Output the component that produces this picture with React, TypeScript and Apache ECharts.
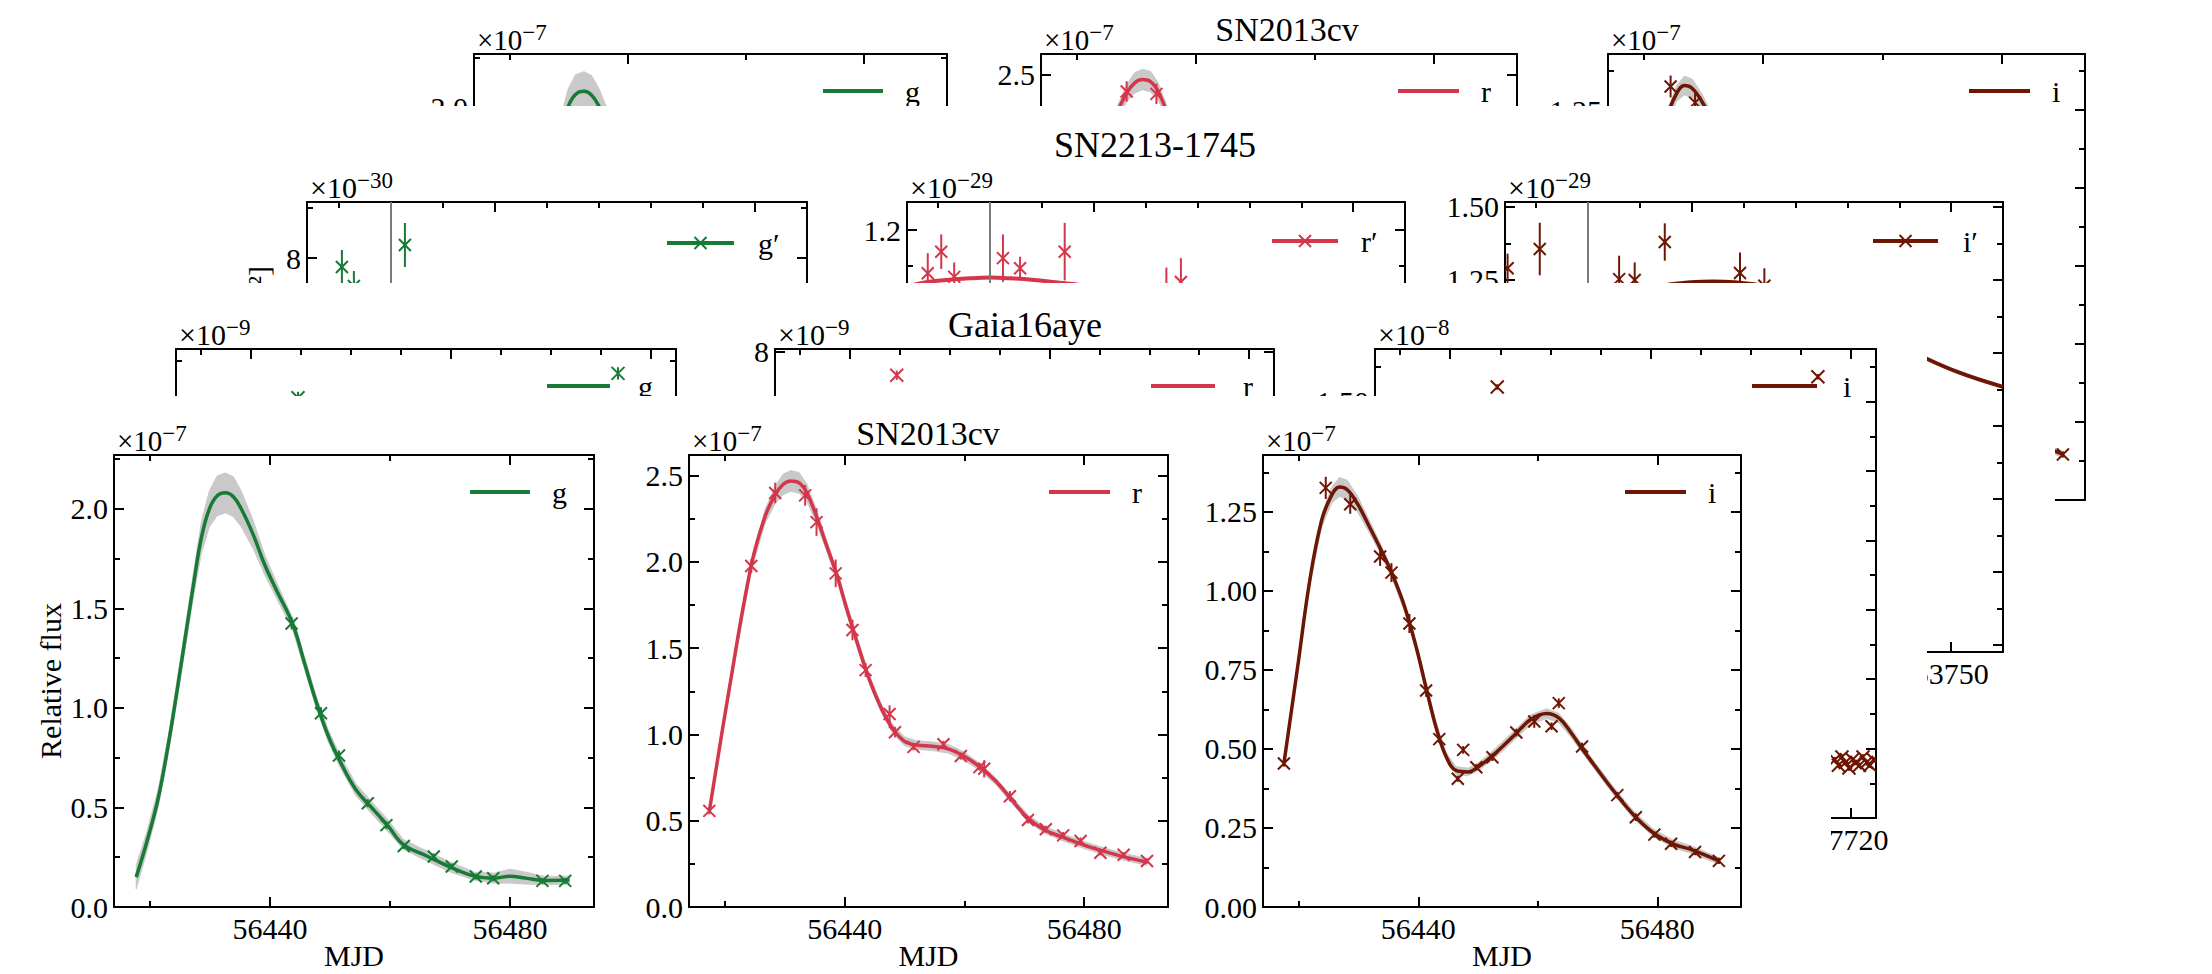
import React, { useEffect, useRef } from "react";
import * as echarts from "echarts";

const FONT = "Liberation Serif, DejaVu Serif, serif";
const GREEN = "#177b35";
const RED = "#d4364b";
const DARK = "#6e1604";
const BAND = "#c9c9c9";
const VLINE = "#7a7a7a";

// ---------------- SN2013cv (relative flux, x1e-7) ----------------
const snXMajor = [56440, 56480];
const snXMinor = [56420, 56460];
const snGYMajor = [0, 0.5, 1, 1.5, 2];
const snGYMinor = [0.25, 0.75, 1.25, 1.75, 2.25];
const snRYMajor = [0, 0.5, 1, 1.5, 2, 2.5];
const snRYMinor = [0.25, 0.75, 1.25, 1.75, 2.25];
const snIYMajor = [0, 0.25, 0.5, 0.75, 1, 1.25];
const snIYMinor = [0.125, 0.375, 0.625, 0.875, 1.125, 1.375];

const snGModelMjd = [56417.7, 56419.5, 56421.4, 56423.3, 56425.3, 56427.3, 56428.6, 56429.9, 56431.2, 56432.6, 56433.9, 56435.2, 56437.2, 56439.1, 56441.1, 56443.8, 56445.7, 56447.7, 56449.7, 56451.7, 56454.3, 56456.9, 56459.6, 56462.2, 56466.2, 56470.1, 56474.1, 56477.4, 56480.0, 56482.6, 56485.9, 56489.9];
const snGModelFlux = [0.15, 0.33, 0.55, 0.86, 1.24, 1.63, 1.86, 2.0, 2.065, 2.08, 2.06, 2.0, 1.87, 1.72, 1.59, 1.42, 1.23, 1.03, 0.86, 0.73, 0.59, 0.5, 0.41, 0.315, 0.255, 0.2, 0.155, 0.145, 0.155, 0.145, 0.133, 0.135];
const snGModelSig = [0.06, 0.05, 0.045, 0.045, 0.05, 0.06, 0.08, 0.09, 0.1, 0.1, 0.1, 0.09, 0.07, 0.05, 0.04, 0.03, 0.03, 0.03, 0.03, 0.03, 0.03, 0.03, 0.03, 0.025, 0.025, 0.025, 0.02, 0.025, 0.035, 0.03, 0.02, 0.02];
const snGObsMjd = [56443.6, 56448.5, 56451.5, 56456.3, 56459.4, 56462.3, 56467.3, 56470.3, 56474.3, 56477.2, 56485.4, 56489.2];
const snGObsFlux = [1.424, 0.973, 0.761, 0.521, 0.411, 0.306, 0.254, 0.203, 0.153, 0.144, 0.131, 0.131];
const snGObsErr = [0.03, 0.03, 0.025, 0.02, 0.02, 0.015, 0.015, 0.015, 0.015, 0.015, 0.015, 0.015];

const snRModelMjd = [56417.4, 56420.7, 56424.4, 56426.7, 56428.4, 56429.7, 56431.0, 56432.4, 56433.7, 56435.3, 56437.0, 56438.7, 56440.3, 56442.0, 56444.0, 56446.0, 56448.0, 56450.0, 56452.0, 56454.6, 56457.3, 56459.9, 56462.6, 56465.3, 56467.9, 56470.6, 56473.2, 56476.5, 56479.9, 56483.2, 56486.5, 56490.5];
const snRModelFlux = [0.557, 1.26, 1.98, 2.263, 2.39, 2.449, 2.47, 2.458, 2.4, 2.263, 2.093, 1.924, 1.733, 1.542, 1.33, 1.161, 1.034, 0.96, 0.939, 0.932, 0.917, 0.875, 0.811, 0.727, 0.621, 0.515, 0.451, 0.403, 0.36, 0.324, 0.292, 0.261];
const snRModelSig = [0.01, 0.02, 0.03, 0.04, 0.05, 0.06, 0.06, 0.06, 0.05, 0.04, 0.03, 0.03, 0.03, 0.03, 0.025, 0.025, 0.025, 0.025, 0.025, 0.025, 0.025, 0.025, 0.02, 0.02, 0.02, 0.02, 0.02, 0.02, 0.02, 0.02, 0.02, 0.02];
const snRObsMjd = [56417.4, 56424.4, 56428.4, 56433.4, 56435.3, 56438.5, 56441.3, 56443.5, 56447.5, 56448.4, 56451.5, 56456.5, 56459.4, 56462.5, 56463.3, 56467.6, 56470.6, 56473.6, 56476.5, 56479.4, 56482.7, 56486.6, 56490.5];
const snRObsFlux = [0.557, 1.977, 2.4, 2.386, 2.231, 1.934, 1.606, 1.373, 1.119, 1.013, 0.928, 0.943, 0.875, 0.811, 0.801, 0.642, 0.504, 0.451, 0.415, 0.383, 0.314, 0.303, 0.267];
const snRObsErr = [0.02, 0.04, 0.06, 0.06, 0.08, 0.08, 0.06, 0.04, 0.05, 0.03, 0.02, 0.02, 0.02, 0.02, 0.05, 0.03, 0.02, 0.02, 0.02, 0.02, 0.015, 0.015, 0.015];

const snIModelMjd = [56417.5, 56419.8, 56421.8, 56423.8, 56425.5, 56426.8, 56428.1, 56429.8, 56431.7, 56433.7, 56435.7, 56437.7, 56439.7, 56441.3, 56443.0, 56444.6, 56446.3, 56448.3, 56450.2, 56452.9, 56456.2, 56458.8, 56461.5, 56463.5, 56465.5, 56467.4, 56470.1, 56472.7, 56476.0, 56479.3, 56482.6, 56485.9, 56490.3];
const snIModelFlux = [0.454, 0.76, 1.03, 1.222, 1.303, 1.329, 1.32, 1.276, 1.207, 1.132, 1.05, 0.95, 0.818, 0.693, 0.566, 0.478, 0.432, 0.427, 0.446, 0.487, 0.546, 0.593, 0.612, 0.598, 0.553, 0.501, 0.432, 0.367, 0.292, 0.235, 0.2, 0.18, 0.146];
const snIModelSig = [0.005, 0.01, 0.015, 0.02, 0.025, 0.03, 0.03, 0.025, 0.02, 0.015, 0.015, 0.015, 0.015, 0.015, 0.015, 0.012, 0.012, 0.012, 0.012, 0.015, 0.015, 0.015, 0.015, 0.015, 0.015, 0.012, 0.012, 0.012, 0.012, 0.012, 0.012, 0.012, 0.01];
const snIObsMjd = [56417.5, 56424.5, 56428.6, 56433.6, 56435.5, 56438.5, 56441.3, 56443.5, 56446.6, 56447.5, 56449.7, 56452.4, 56456.4, 56459.4, 56462.3, 56463.5, 56467.4, 56473.3, 56476.4, 56479.5, 56482.3, 56486.3, 56490.3];
const snIObsFlux = [0.454, 1.326, 1.274, 1.109, 1.058, 0.897, 0.685, 0.531, 0.406, 0.497, 0.442, 0.474, 0.552, 0.587, 0.572, 0.645, 0.508, 0.354, 0.284, 0.229, 0.2, 0.174, 0.146];
const snIObsErr = [0.01, 0.035, 0.03, 0.03, 0.03, 0.03, 0.02, 0.012, 0.01, 0.012, 0.01, 0.012, 0.012, 0.02, 0.012, 0.015, 0.012, 0.01, 0.012, 0.01, 0.01, 0.01, 0.01];

// ---------------- SN2213-1745 ----------------
const slXMajor = [53700, 53750];
const slXMinor = [53670, 53680, 53690, 53710, 53720, 53730, 53740, 53760];
const slGYMajor = [5, 6, 7, 8];
const slGYMinor = [4.5, 5.5, 6.5, 7.5, 8.5];
const slRYMajor = [0.7, 0.8, 0.9, 1.0, 1.1, 1.2];
const slRYMinor = [0.65, 0.75, 0.85, 0.95, 1.05, 1.15];
const slIYMajor = [0, 0.25, 0.5, 0.75, 1, 1.25, 1.5];
const slIYMinor = [0.125, 0.375, 0.625, 0.875, 1.125, 1.375];
const slMarkDate = 53680;

const slGModelMjd = [53664, 53680, 53700, 53720, 53740, 53760];
const slGModelFlux = [6.9, 7.3, 7.4, 7.1, 6.6, 6.1];
const slGObsMjd = [53670.7, 53673.0, 53682.8];
const slGObsFlux = [7.91, 7.72, 8.13];
const slGObsErr = [0.17, 0.15, 0.22];

const slRModelMjd = [53664, 53668, 53672, 53676, 53680, 53684, 53688, 53692, 53696, 53700, 53705, 53710, 53720, 53730, 53740, 53750, 53760];
const slRModelFlux = [1.122, 1.128, 1.131, 1.133, 1.134, 1.133, 1.131, 1.128, 1.125, 1.12, 1.11, 1.09, 1.05, 0.98, 0.91, 0.85, 0.8];
const slRObsMjd = [53668.0, 53670.6, 53673.1, 53682.5, 53685.8, 53694.4, 53714.0, 53716.8];
const slRObsFlux = [1.14, 1.17, 1.135, 1.161, 1.147, 1.17, 1.118, 1.128];
const slRObsErr = [0.028, 0.024, 0.02, 0.033, 0.016, 0.04, 0.03, 0.033];

const slIModelMjd = [53664, 53672, 53680, 53688, 53696, 53704, 53712, 53720, 53728, 53736, 53745, 53752, 53760];
const slIModelFlux = [1.0, 1.08, 1.15, 1.2, 1.235, 1.245, 1.235, 1.2, 1.14, 1.065, 0.983, 0.93, 0.884];
const slIObsMjd = [53664.5, 53670.7, 53686.0, 53689.0, 53694.8, 53709.3, 53714.0];
const slIObsFlux = [1.29, 1.356, 1.253, 1.25, 1.38, 1.274, 1.23];
const slIObsErr = [0.05, 0.09, 0.08, 0.06, 0.064, 0.07, 0.06];

// ---------------- Gaia16aye ----------------
const gaXMajor = [57640, 57680, 57720];
const gaXMinor = [57630, 57650, 57660, 57670, 57690, 57700, 57710];
const gaGYMajor = [0, 0.5, 1, 1.5, 2];
const gaGYMinor = [0.25, 0.75, 1.25, 1.75, 2.25];
const gaRYMajor = [0, 2, 4, 6, 8];
const gaRYMinor = [1, 3, 5, 7];
const gaIYMajor = [0, 0.25, 0.5, 0.75, 1, 1.25, 1.5];
const gaIYMinor = [0.125, 0.375, 0.625, 0.875, 1.125, 1.375, 1.625];

const gaGObsMjd = [57649.4, 57713.4];
const gaGObsFlux = [2.07, 2.19];
const gaGObsErr = [0.03, 0.03];
const gaRObsMjd = [57649.4];
const gaRObsFlux = [7.6];
const gaRObsErr = [0.08];
const gaIObsMjd = [57649.4, 57713.4, 57716.8, 57717.5, 57718.2, 57718.9, 57719.6, 57720.3, 57721.0, 57721.7, 57722.4, 57723.1, 57723.8, 57724.5];
const gaIObsFlux = [1.553, 1.59, 0.21, 0.19, 0.22, 0.2, 0.18, 0.21, 0.2, 0.19, 0.22, 0.2, 0.19, 0.21];
const gaIObsErr = [0.01, 0.01, 0.01, 0.01, 0.01, 0.01, 0.01, 0.01, 0.01, 0.01, 0.01, 0.01, 0.01, 0.01];

// ---------------- layout ----------------
const LAYER_BOXES = [
  { top: 0, width: 2212, height: 505 },
  { top: 106, width: 2055, height: 614 },
  { top: 283, width: 1927, height: 587 },
  { top: 396, width: 1831, height: 578 },
];

type S3 = { x: number[]; y: number[]; e: number[] };
interface PanelDef {
  left: number; top: number; width: number; height: number;
  xMin: number; xMax: number; xMajor: number[]; xMinor: number[]; xLabels: number[];
  yMin: number; yMax: number; yMajor: number[]; yMinor: number[]; yLabels: number[]; yDec: number;
  font: number; xName?: string; yName?: string;
  color: string; lineWidth: number; mark: number;
  model?: { x: number[]; y: number[] };
  band?: S3;
  obs?: S3;
  vline?: number;
}
interface Layer { top: number; panels: PanelDef[]; graphic: any[] }

function textEl(x: number, y: number, text: string, size: number, align = "left", vAlign = "bottom", extra: any = {}) {
  return {
    type: "text", x, y, silent: true, ...extra,
    style: { text, fill: "#000", fontFamily: FONT, fontSize: size, align, verticalAlign: vAlign },
  };
}

function buildOption(layer: Layer) {
  const layerTop = layer.top;
  const grid: any[] = [];
  const xAxis: any[] = [];
  const yAxis: any[] = [];
  const series: any[] = [];
  const MAJ = 10;
  const MIN = 6;
  layer.panels.forEach((p, gi) => {
    grid.push({ left: p.left, top: p.top - layerTop, width: p.width, height: p.height, containLabel: false, outerBoundsMode: "none", show: false });
    const xi = xAxis.length;
    const yi = yAxis.length;
    const line = { show: true, onZero: false, lineStyle: { color: "#000", width: 2 } };
    const noLine = { show: false, onZero: false };
    const tick = (vals: number[], len: number) =>
      vals.length ? { show: true, inside: true, length: len, customValues: vals, lineStyle: { color: "#000", width: 2 } } : { show: false };
    const xb = { type: "value", gridIndex: gi, min: p.xMin, max: p.xMax, splitLine: { show: false }, axisLabel: { show: false } };
    xAxis.push(
      { ...xb, position: "bottom", axisLine: line, axisTick: tick(p.xMajor, MAJ) },
      { ...xb, position: "bottom", axisLine: noLine, axisTick: tick(p.xMinor, MIN) },
      { ...xb, position: "top", axisLine: line, axisTick: tick(p.xMajor, MAJ) },
      { ...xb, position: "top", axisLine: noLine, axisTick: tick(p.xMinor, MIN) }
    );
    const yb = { type: "value", gridIndex: gi, min: p.yMin, max: p.yMax, splitLine: { show: false }, axisLabel: { show: false } };
    yAxis.push(
      { ...yb, position: "left", axisLine: line, axisTick: tick(p.yMajor, MAJ) },
      { ...yb, position: "left", axisLine: noLine, axisTick: tick(p.yMinor, MIN) },
      { ...yb, position: "right", axisLine: line, axisTick: tick(p.yMajor, MAJ) },
      { ...yb, position: "right", axisLine: noLine, axisTick: tick(p.yMinor, MIN) }
    );
    if (p.band) {
      const b = p.band;
      series.push({
        type: "custom", xAxisIndex: xi, yAxisIndex: yi, clip: true, silent: true, z: 1,
        data: [[b.x[0], b.y[0]]], encode: { x: 0, y: 1 },
        renderItem: (_: any, api: any) => {
          const up = b.x.map((x, k) => api.coord([x, b.y[k] + b.e[k]]));
          const lo = b.x.map((x, k) => api.coord([x, b.y[k] - b.e[k]])).reverse();
          return { type: "polygon", shape: { points: up.concat(lo) }, style: { fill: BAND, stroke: BAND, lineWidth: 1 } };
        },
      });
    }
    if (p.model) {
      const m = p.model;
      const s: any = {
        type: "line", xAxisIndex: xi, yAxisIndex: yi, silent: true, z: 2,
        data: m.x.map((x, k) => [x, m.y[k]]), symbol: "none", smooth: 0.4,
        lineStyle: { color: p.color, width: p.lineWidth }, clip: true,
      };
      if (p.vline !== undefined) {
        s.markLine = {
          silent: true, symbol: ["none", "none"], label: { show: false },
          lineStyle: { color: VLINE, width: 2, type: "solid" }, data: [{ xAxis: p.vline }],
        };
      }
      series.push(s);
    }
    if (p.obs) {
      const o = p.obs;
      const half = p.mark / 2;
      const col = p.color;
      series.push({
        type: "custom", xAxisIndex: xi, yAxisIndex: yi, clip: true, silent: true, z: 3,
        data: o.x.map((x, k) => [x, o.y[k], o.e[k]]), encode: { x: 0, y: 1 },
        renderItem: (_: any, api: any) => {
          const x = api.value(0);
          const y = api.value(1);
          const e = api.value(2);
          const c = api.coord([x, y]);
          const t = api.coord([x, y + e]);
          const bt = api.coord([x, y - e]);
          const st = { stroke: col, lineWidth: 2 };
          return {
            type: "group",
            children: [
              { type: "line", shape: { x1: c[0], y1: t[1], x2: c[0], y2: bt[1] }, style: st },
              { type: "line", shape: { x1: c[0] - half, y1: c[1] - half, x2: c[0] + half, y2: c[1] + half }, style: st },
              { type: "line", shape: { x1: c[0] - half, y1: c[1] + half, x2: c[0] + half, y2: c[1] - half }, style: st },
            ],
          };
        },
      });
    }
  });
  return { animation: false, backgroundColor: "#ffffff", grid, xAxis, yAxis, series, graphic: layer.graphic };
}

// tick labels and axis names, placed through the axes' own scales
function axisTexts(chart: any, layer: Layer) {
  const out: any[] = [];
  layer.panels.forEach((p, gi) => {
    const xi = gi * 4;
    const yi = gi * 4;
    const top = p.top - layer.top;
    const bottom = top + p.height;
    p.xLabels.forEach((v) => {
      const px = chart.convertToPixel({ xAxisIndex: xi }, v);
      out.push(textEl(px, bottom + 6, String(v), p.font, "center", "top"));
    });
    p.yLabels.forEach((v) => {
      const py = chart.convertToPixel({ yAxisIndex: yi }, v);
      out.push(textEl(p.left - 6, py, v.toFixed(p.yDec), p.font, "right", "middle"));
    });
    if (p.xName) out.push(textEl(p.left + p.width / 2, bottom + 33, p.xName, p.font, "center", "top"));
    if (p.yName) out.push(textEl(p.left - 64, top + p.height / 2, p.yName, p.font, "center", "middle", { rotation: Math.PI / 2 }));
  });
  return out;
}

function offsetText(layerTop: number, left: number, top: number, exp: string, size: number) {
  const base = 1.564 * size;
  return [
    textEl(left + 3, top - layerTop, "×10", size),
    textEl(left + 3 + base, top - layerTop - 10, exp, Math.round(size * 0.78)),
  ];
}

function legendEls(layerTop: number, right: number, y: number, o1: number, o2: number, ot: number, label: string, color: string, font: number, mark: boolean) {
  const yy = y - layerTop;
  const els: any[] = [
    { type: "line", silent: true, shape: { x1: right - o1, y1: yy, x2: right - o2, y2: yy }, style: { stroke: color, lineWidth: 4 } },
    textEl(right - ot, yy, label, font, "left", "middle"),
  ];
  if (mark) {
    const cx = right - (o1 + o2) / 2;
    const h = 6;
    els.push(
      { type: "line", silent: true, shape: { x1: cx - h, y1: yy - h, x2: cx + h, y2: yy + h }, style: { stroke: color, lineWidth: 2 } },
      { type: "line", silent: true, shape: { x1: cx - h, y1: yy + h, x2: cx + h, y2: yy - h }, style: { stroke: color, lineWidth: 2 } }
    );
  }
  return els;
}

type Geom = { left: number; top: number; width: number; height: number };

function snPanels(geom: Geom[], full: boolean): PanelDef[] {
  const common = { xMin: 56414, xMax: 56494, xMajor: snXMajor, xMinor: snXMinor, xLabels: full ? snXMajor : [], font: 30, xName: full ? "MJD" : undefined, lineWidth: 3.5, mark: 12 };
  return [
    {
      ...geom[0], ...common, yMin: 0, yMax: 2.27, yMajor: snGYMajor, yMinor: snGYMinor, yLabels: full ? snGYMajor : [2], yDec: 1,
      yName: full ? "Relative flux" : undefined, color: GREEN,
      model: { x: snGModelMjd, y: snGModelFlux }, band: { x: snGModelMjd, y: snGModelFlux, e: snGModelSig },
      obs: { x: snGObsMjd, y: snGObsFlux, e: snGObsErr },
    },
    {
      ...geom[1], ...common, yMin: 0, yMax: 2.62, yMajor: snRYMajor, yMinor: snRYMinor, yLabels: full ? snRYMajor : [2.5], yDec: 1, color: RED,
      model: { x: snRModelMjd, y: snRModelFlux }, band: { x: snRModelMjd, y: snRModelFlux, e: snRModelSig },
      obs: { x: snRObsMjd, y: snRObsFlux, e: snRObsErr },
    },
    {
      ...geom[2], ...common, yMin: 0, yMax: 1.43, yMajor: snIYMajor, yMinor: snIYMinor, yLabels: full ? snIYMajor : [1.25], yDec: 2, color: DARK,
      model: { x: snIModelMjd, y: snIModelFlux }, band: { x: snIModelMjd, y: snIModelFlux, e: snIModelSig },
      obs: { x: snIObsMjd, y: snIObsFlux, e: snIObsErr },
    },
  ];
}

function snGraphics(layerTop: number, geom: Geom[], titleX: number, titleY: number) {
  const g: any[] = [];
  geom.forEach((q) => g.push(...offsetText(layerTop, q.left, q.top, "−7", 29)));
  g.push(textEl(titleX, titleY - layerTop, "SN2013cv", 34, "center", "middle"));
  const ly = geom[0].top + 37;
  const r0 = geom[0].left + geom[0].width;
  const r1 = geom[1].left + geom[1].width;
  const r2 = geom[2].left + geom[2].width;
  g.push(...legendEls(layerTop, r0, ly, 124, 64, 42, "g", GREEN, 30, false));
  g.push(...legendEls(layerTop, r1, ly, 119, 58, 36, "r", RED, 30, false));
  g.push(...legendEls(layerTop, r2, ly, 116, 55, 33, "i", DARK, 30, false));
  return g;
}

function buildLayers(): Layer[] {
  // Layer A: SN2013cv (back copy)
  const geomA = [
    { left: 474, top: 54, width: 473, height: 446 },
    { left: 1041, top: 54, width: 476, height: 446 },
    { left: 1608, top: 54, width: 477, height: 446 },
  ];
  const layerA: Layer = { top: 0, panels: snPanels(geomA, false), graphic: snGraphics(0, geomA, 1287, 29) };

  // Layer B: SN2213-1745
  const tB = LAYER_BOXES[1].top;
  const slCommon = { xMin: 53664, xMax: 53760, xMajor: slXMajor, xMinor: slXMinor, font: 30, lineWidth: 4, mark: 12, vline: slMarkDate };
  const panelsB: PanelDef[] = [
    {
      left: 307, top: 202, width: 500, height: 450, ...slCommon, xLabels: [],
      yMin: 4.06, yMax: 8.56, yMajor: slGYMajor, yMinor: slGYMinor, yLabels: [8], yDec: 0, color: GREEN,
      model: { x: slGModelMjd, y: slGModelFlux }, obs: { x: slGObsMjd, y: slGObsFlux, e: slGObsErr },
    },
    {
      left: 907, top: 202, width: 498, height: 450, ...slCommon, xLabels: [],
      yMin: 0.614, yMax: 1.239, yMajor: slRYMajor, yMinor: slRYMinor, yLabels: [1.2], yDec: 1, color: RED,
      model: { x: slRModelMjd, y: slRModelFlux }, obs: { x: slRObsMjd, y: slRObsFlux, e: slRObsErr },
    },
    {
      left: 1505, top: 202, width: 498, height: 450, ...slCommon, xLabels: [53750],
      yMin: -0.024, yMax: 1.517, yMajor: slIYMajor, yMinor: slIYMinor, yLabels: [1.5, 1.25], yDec: 2, color: DARK,
      model: { x: slIModelMjd, y: slIModelFlux }, obs: { x: slIObsMjd, y: slIObsFlux, e: slIObsErr },
    },
  ];
  const gB: any[] = [];
  gB.push(...offsetText(tB, 307, 202, "−30", 30));
  gB.push(...offsetText(tB, 907, 202, "−29", 30));
  gB.push(...offsetText(tB, 1505, 202, "−29", 30));
  gB.push(textEl(1155, 145 - tB, "SN2213-1745", 36, "center", "middle"));
  gB.push(...legendEls(tB, 807, 243, 140, 73, 49, "g′", GREEN, 30, true));
  gB.push(...legendEls(tB, 1405, 241, 133, 67, 44, "r′", RED, 30, true));
  gB.push(...legendEls(tB, 2003, 241, 130, 65, 40, "i′", DARK, 30, true));
  gB.push(textEl(258, 266 - tB, "Flux [erg s⁻¹ Hz⁻¹ cm⁻²]", 30, "right", "middle", { rotation: Math.PI / 2 }));
  const layerB: Layer = { top: tB, panels: panelsB, graphic: gB };

  // Layer C: Gaia16aye
  const tC = LAYER_BOXES[2].top;
  const gaCommon = { xMin: 57625, xMax: 57725, xMajor: gaXMajor, xMinor: gaXMinor, font: 30, lineWidth: 4, mark: 13, top: 349, height: 469 };
  const panelsC: PanelDef[] = [
    {
      left: 176, width: 500, ...gaCommon, xLabels: [],
      yMin: 0, yMax: 2.31, yMajor: gaGYMajor, yMinor: gaGYMinor, yLabels: [], yDec: 1, color: GREEN,
      obs: { x: gaGObsMjd, y: gaGObsFlux, e: gaGObsErr },
    },
    {
      left: 775, width: 499, ...gaCommon, xLabels: [],
      yMin: 0, yMax: 8.05, yMajor: gaRYMajor, yMinor: gaRYMinor, yLabels: [8], yDec: 0, color: RED,
      obs: { x: gaRObsMjd, y: gaRObsFlux, e: gaRObsErr },
    },
    {
      left: 1375, width: 501, ...gaCommon, xLabels: [57720],
      yMin: 0, yMax: 1.69, yMajor: gaIYMajor, yMinor: gaIYMinor, yLabels: [1.5], yDec: 2, color: DARK,
      obs: { x: gaIObsMjd, y: gaIObsFlux, e: gaIObsErr },
    },
  ];
  const gC: any[] = [];
  gC.push(...offsetText(tC, 176, 349, "−9", 30));
  gC.push(...offsetText(tC, 775, 349, "−9", 30));
  gC.push(...offsetText(tC, 1375, 349, "−8", 30));
  gC.push(textEl(1025, 325 - tC, "Gaia16aye", 36, "center", "middle"));
  gC.push(...legendEls(tC, 676, 386, 129, 66, 38, "g", GREEN, 30, false));
  gC.push(...legendEls(tC, 1274, 386, 123, 59, 31, "r", RED, 30, false));
  gC.push(...legendEls(tC, 1876, 386, 124, 59, 33, "i", DARK, 30, false));
  const layerC: Layer = { top: tC, panels: panelsC, graphic: gC };

  // Layer D: SN2013cv (front)
  const tD = LAYER_BOXES[3].top;
  const geomD = [
    { left: 114, top: 455, width: 480, height: 452 },
    { left: 689, top: 455, width: 479, height: 452 },
    { left: 1263, top: 455, width: 478, height: 452 },
  ];
  const layerD: Layer = { top: tD, panels: snPanels(geomD, true), graphic: snGraphics(tD, geomD, 928, 433) };

  return [layerA, layerB, layerC, layerD];
}

export default function App() {
  const refs = useRef<(HTMLDivElement | null)[]>([]);
  useEffect(() => {
    document.body.style.margin = "0";
    const layers = buildLayers();
    const charts = layers.map((layer, i) => {
      const c = echarts.init(refs.current[i] as HTMLDivElement, null, { renderer: "svg" });
      c.setOption(buildOption(layer) as any);
      const labels = axisTexts(c, layer);
      c.setOption({ graphic: layer.graphic.concat(labels) } as any);
      return c;
    });
    return () => charts.forEach((c) => c.dispose());
  }, []);
  return (
    <div style={{ position: "relative", width: 2212, height: 974, background: "#fff", overflow: "hidden" }}>
      {LAYER_BOXES.map((b, i) => (
        <div
          key={i}
          ref={(el) => {
            refs.current[i] = el;
          }}
          style={{ position: "absolute", left: 0, top: b.top, width: b.width, height: b.height, background: "#fff" }}
        />
      ))}
    </div>
  );
}
